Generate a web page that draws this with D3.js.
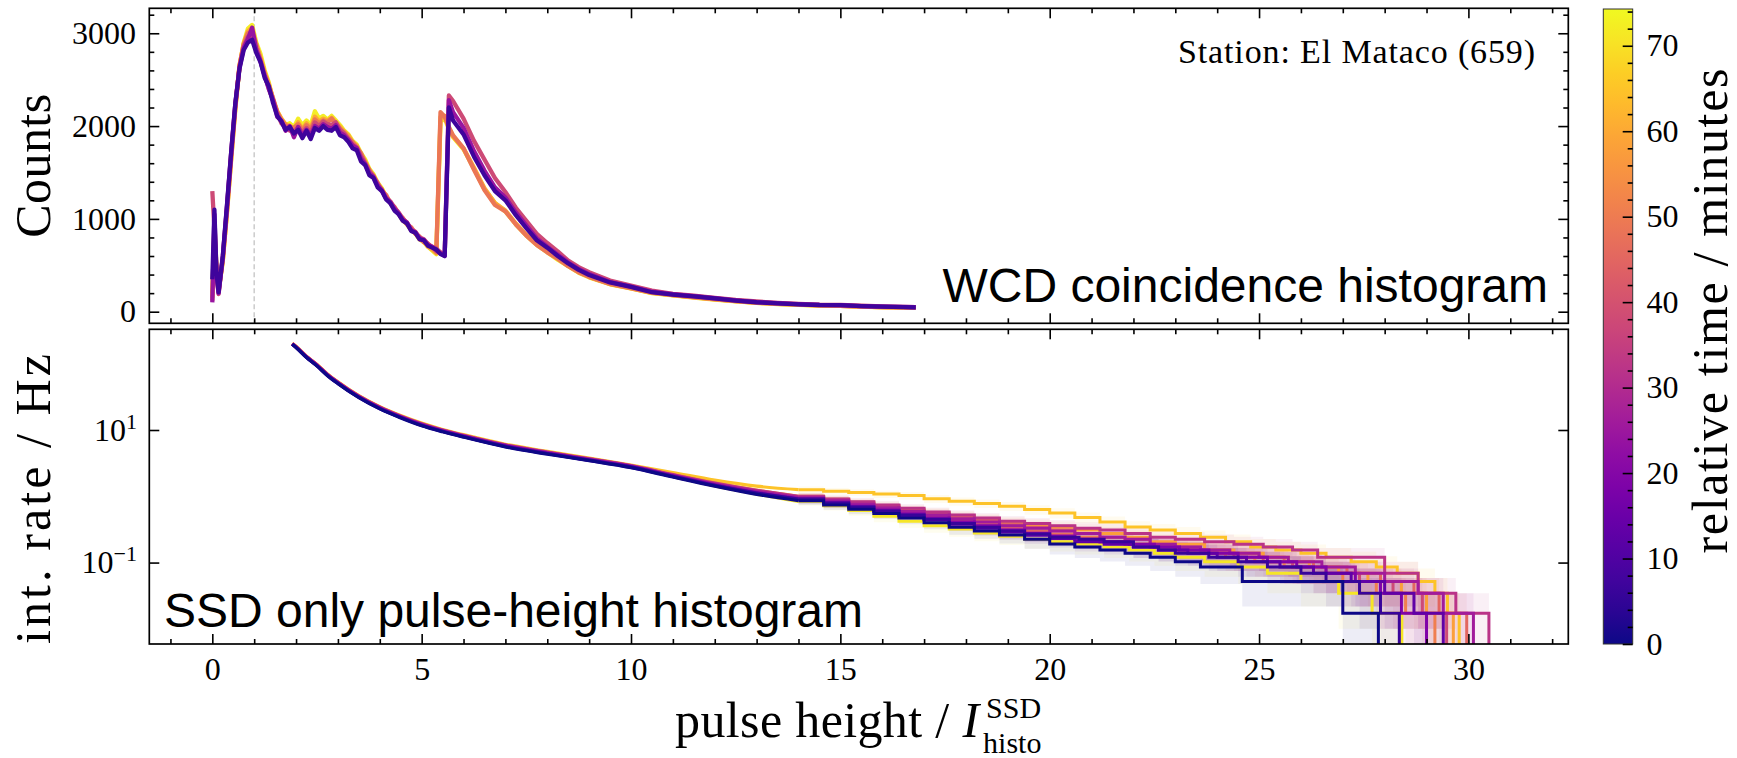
<!DOCTYPE html>
<html>
<head>
<meta charset="utf-8">
<script src="https://cdn.jsdelivr.net/npm/d3@7"></script>
<style>
  body { margin: 0; background: #fff; }
  svg { display: block; }
  text { white-space: pre; }
</style>
</head>
<body>
<svg id="chart" width="1737" height="758"></svg>
<script>
// ---- data ----

// axis ticks
const xTicks = [0, 5, 10, 15, 20, 25, 30];
const countTicks = [0, 1000, 2000, 3000];
const rateTicks = [0.1, 10];
const timeTicks = [0, 10, 20, 30, 40, 50, 60, 70];

// WCD coincidence histogram (top), common pulse-height grid
const wcdX = [0, 0.05, 0.1, 0.15,
  0.25, 0.35, 0.45, 0.55, 0.65, 0.75, 0.85, 0.95, 1.05, 1.15,
  1.25, 1.35, 1.45, 1.55, 1.65, 1.75, 1.85, 1.95, 2.05, 2.15,
  2.25, 2.35, 2.45, 2.55, 2.65, 2.75, 2.85, 2.95, 3.05, 3.15,
  3.25, 3.35, 3.45, 3.55, 3.65, 3.75, 3.85, 3.95, 4.05, 4.15,
  4.25, 4.35, 4.45, 4.55, 4.65, 4.75, 4.85, 4.95, 5.05, 5.15,
  5.25, 5.35, 5.45, 5.55, 5.65, 5.75,
  6, 6.25, 6.5, 6.75, 7, 7.25, 7.5, 7.75, 8, 8.25, 8.5, 8.75, 9,
  9.5, 10, 10.5, 11, 11.5, 12, 12.5, 13, 13.5, 14, 14.5, 15, 15.5, 16, 16.5,
  16.8];

const wcdTimes = [72, 60, 49, 38, 24, 7];

const wcd72 = [200, 800, 450, 220,
  540, 1060, 1630, 2180, 2640, 2900, 3050, 3090, 2900, 2780,
  2600, 2470, 2280, 2160, 2070, 2010, 2030, 1990, 2080, 2010,
  2060, 2010, 2160, 2080, 2110, 2070, 2110, 2060, 2010, 1950,
  1910, 1840, 1800, 1710, 1640, 1540, 1480, 1390, 1330, 1240,
  1180, 1110, 1060, 990, 940, 880, 840, 780, 750, 700,
  660, 620, 2050, 2080, 1970, 1880,
  1750, 1540, 1320, 1170, 1080, 940, 820, 720, 640, 560, 490, 420, 370,
  295, 250, 200, 175, 152, 130, 112, 95, 83, 74, 66, 62, 54, 48, 45,
  43];

const wcd60 = [150, 950, 480, 240,
  550, 1090, 1660, 2210, 2660, 2890, 3020, 3060, 2870, 2740,
  2580, 2450, 2290, 2160, 2080, 2020, 2000, 1970, 2040, 1970,
  2030, 1980, 2100, 2050, 2080, 2060, 2090, 2040, 1990, 1940,
  1900, 1820, 1790, 1690, 1620, 1520, 1470, 1370, 1320, 1230,
  1180, 1100, 1060, 980, 950, 880, 850, 780, 760, 700,
  670, 630, 2100, 2110, 1980, 1890,
  1760, 1550, 1330, 1170, 1090, 950, 830, 730, 650, 570, 495, 425, 375,
  298, 252, 202, 178, 155, 132, 114, 96, 84, 76, 67, 63, 55, 49, 45,
  43];

const wcd49 = [120, 700, 500, 230,
  560, 1080, 1650, 2200, 2650, 2880, 3000, 3020, 2880, 2720,
  2560, 2440, 2300, 2150, 2060, 2010, 1990, 1980, 2020, 1950,
  2010, 1960, 2070, 2030, 2060, 2040, 2080, 2020, 1970, 1930,
  1870, 1830, 1770, 1710, 1610, 1530, 1450, 1390, 1300, 1260,
  1170, 1130, 1050, 1010, 940, 910, 840, 810, 750, 735,
  690, 640, 2150, 2100, 1990, 1900,
  1760, 1530, 1310, 1150, 1080, 940, 820, 720, 640, 570, 490, 425, 375,
  300, 255, 205, 180, 158, 135, 115, 98, 85, 78, 68, 64, 56, 50, 46,
  44];

const wcd38 = [1300, 900, 380, 190,
  580, 1120, 1700, 2230, 2640, 2860, 2960, 2980, 2830, 2700,
  2550, 2400, 2280, 2140, 2030, 1990, 1950, 1940, 1990, 1930,
  1980, 1930, 2040, 2000, 2050, 2020, 2010, 2040, 1960, 1920,
  1860, 1800, 1770, 1680, 1600, 1510, 1460, 1370, 1310, 1230,
  1190, 1120, 1070, 1000, 960, 890, 860, 800, 780, 730,
  700, 680, 640, 610, 2330, 2270,
  2080, 1840, 1640, 1440, 1290, 1120, 980, 840, 740, 650, 550, 480, 425,
  335, 280, 228, 192, 172, 150, 127, 110, 96, 84, 76, 73, 65, 58, 53,
  50];

const wcd24 = [100, 1050, 400, 200,
  590, 1140, 1710, 2240, 2630, 2840, 2940, 3060, 2820, 2700,
  2540, 2400, 2280, 2100, 2060, 1950, 2000, 1880, 1990, 1890,
  1960, 1900, 2000, 1970, 2020, 1990, 1970, 2010, 1930, 1900,
  1850, 1790, 1760, 1650, 1590, 1490, 1450, 1360, 1310, 1220,
  1180, 1110, 1060, 990, 960, 880, 855, 790, 775, 720,
  700, 660, 630, 600, 2280, 2150,
  1980, 1730, 1520, 1340, 1230, 1070, 930, 790, 700, 615, 530, 460, 405,
  320, 270, 215, 188, 168, 145, 122, 104, 92, 81, 73, 71, 61, 55, 51,
  48];

const wcd07 = [350, 1100, 420, 210,
  600, 1150, 1720, 2250, 2620, 2820, 2900, 2930, 2790, 2690,
  2520, 2430, 2250, 2110, 2050, 1960, 1990, 1920, 1960, 1870,
  1950, 1860, 1980, 1950, 2000, 1960, 1950, 1990, 1900, 1880,
  1830, 1760, 1740, 1620, 1580, 1470, 1440, 1340, 1300, 1210,
  1170, 1090, 1050, 980, 950, 870, 850, 780, 770, 710,
  690, 670, 620, 600, 2200, 2060,
  1910, 1670, 1470, 1300, 1200, 1040, 900, 770, 690, 600, 520, 450, 395,
  315, 268, 210, 185, 165, 143, 120, 102, 90, 80, 72, 70, 60, 54, 50,
  47];

const wcdSeries = [wcd72, wcd60, wcd49, wcd38, wcd24, wcd07];

// SSD integral rate (bottom): smooth head on a common grid, then step tail [x, Hz]
const ssdHeadX = [1.91, 2.0, 2.25, 2.5, 2.75, 3.0, 3.5, 4.0, 4.5, 5.0, 5.5, 6.0, 7.0, 8.0, 9.0, 10, 11, 12, 13];
const ssdTimes = [71, 65, 58, 51, 45, 38, 32, 26, 19, 13, 6, 0];

const head71 = [197, 177, 125.5, 94, 67.2, 51.0, 31.4, 21.2, 15.6, 11.9, 9.6, 7.98, 5.7, 4.44, 3.53, 2.78, 2.0, 1.43, 1.08];
const head65 = [203, 183, 130, 97.5, 70.0, 53.3, 33.0, 22.5, 16.5, 12.7, 10.2, 8.5, 6.1, 4.75, 3.78, 2.95, 2.28, 1.75, 1.42];
const head58 = [202, 182, 129, 96.8, 69.4, 52.8, 32.6, 22.2, 16.3, 12.5, 10.0, 8.35, 5.98, 4.65, 3.70, 2.9, 2.15, 1.6, 1.24];
const head51 = [200, 180, 127.5, 95.5, 68.5, 52.0, 32.0, 21.8, 16.0, 12.2, 9.82, 8.18, 5.85, 4.55, 3.62, 2.84, 2.08, 1.53, 1.18];
const head45 = [201, 181, 128.5, 96.2, 69.0, 52.4, 32.3, 22.0, 16.1, 12.3, 9.9, 8.25, 5.9, 4.6, 3.66, 2.88, 2.1, 1.56, 1.21];
const head38 = [199, 179, 127, 95.2, 68.0, 51.6, 31.8, 21.6, 15.8, 12.1, 9.72, 8.1, 5.8, 4.5, 3.58, 2.82, 2.05, 1.5, 1.15];
const head32 = [200, 180, 128, 96, 68.8, 52.3, 32.3, 22.0, 16.1, 12.4, 9.95, 8.3, 5.95, 4.63, 3.68, 2.9, 2.12, 1.58, 1.23];
const head26 = [199, 179, 127, 95, 68.2, 51.8, 31.9, 21.7, 15.9, 12.2, 9.8, 8.15, 5.85, 4.55, 3.62, 2.85, 2.07, 1.53, 1.19];
const head19 = [198, 178, 126, 94.4, 67.6, 51.3, 31.6, 21.4, 15.7, 12.0, 9.66, 8.04, 5.75, 4.47, 3.55, 2.8, 2.03, 1.49, 1.14];
const head13 = [196, 176, 124.5, 93, 66.5, 50.5, 31.0, 21.0, 15.4, 11.7, 9.5, 7.9, 5.62, 4.38, 3.48, 2.72, 1.98, 1.45, 1.1];
const head06 = [197, 177, 125, 93.5, 67, 50.8, 31.2, 21.1, 15.5, 11.8, 9.55, 7.95, 5.68, 4.42, 3.52, 2.78, 2.0, 1.46, 1.12];
const head00 = [196, 175, 124, 92, 66, 50, 30.8, 20.8, 15.2, 11.6, 9.4, 7.8, 5.55, 4.32, 3.45, 2.7, 1.95, 1.42, 1.07];

const tail71 = [[14,0.84],[14.6,0.72],[15.2,0.61],[15.8,0.50],[16.4,0.42],[17,0.36],[17.6,0.32],[18.2,0.28],[18.8,0.25],[19.4,0.224],[20,0.206],[20.6,0.189],[21.3,0.172],[21.9,0.155],[22.5,0.138],[23.0,0.12],[23.7,0.103],[24.5,0.086],[25.2,0.0688],[26.0,0.0516],[26.9,0.0344],[27.7,0.0172],[28.41,0]];
const tail65 = [[14,1.26],[14.6,1.19],[15.2,1.14],[15.8,1.08],[16.4,1.03],[17,0.92],[17.6,0.84],[18.2,0.78],[18.8,0.71],[19.4,0.63],[20,0.56],[20.6,0.48],[21.2,0.41],[21.8,0.344],[22.4,0.31],[23.0,0.275],[23.6,0.241],[24.2,0.206],[24.8,0.172],[25.4,0.155],[26.0,0.138],[26.6,0.12],[27.2,0.103],[27.8,0.086],[28.3,0.0688],[28.8,0.0516],[29.2,0.0344],[29.5,0.0172],[29.78,0]];
const tail58 = [[14,1.0],[14.6,0.90],[15.2,0.81],[15.8,0.72],[16.4,0.63],[17,0.56],[17.6,0.50],[18.2,0.45],[18.8,0.40],[19.4,0.37],[20,0.34],[20.6,0.31],[21.2,0.275],[21.8,0.241],[22.4,0.206],[23.0,0.189],[23.7,0.155],[24.4,0.138],[25.1,0.12],[25.7,0.103],[26.2,0.086],[26.9,0.0688],[27.6,0.0516],[28.4,0.0344],[29.0,0.0172],[29.64,0]];
const tail51 = [[14,0.95],[14.6,0.84],[15.2,0.74],[15.8,0.65],[16.4,0.57],[17,0.50],[17.6,0.44],[18.2,0.38],[18.8,0.33],[19.4,0.30],[20,0.27],[20.6,0.241],[21.2,0.206],[21.8,0.189],[22.4,0.172],[23.0,0.155],[23.6,0.138],[24.2,0.12],[24.9,0.103],[25.6,0.086],[26.3,0.0688],[27.0,0.0516],[27.8,0.0344],[28.5,0.0172],[29.2,0]];
const tail45 = [[14,0.98],[14.6,0.87],[15.2,0.78],[15.8,0.69],[16.4,0.61],[17,0.54],[17.6,0.48],[18.2,0.43],[18.8,0.38],[19.4,0.34],[20,0.31],[20.6,0.275],[21.2,0.241],[21.8,0.224],[22.4,0.189],[23.0,0.172],[23.6,0.155],[24.3,0.138],[25.0,0.12],[25.6,0.103],[26.3,0.086],[27.1,0.0688],[27.9,0.0516],[28.7,0.0344],[29.3,0.0172],[29.96,0]];
const tail38 = [[14,0.93],[14.6,0.82],[15.2,0.72],[15.8,0.63],[16.4,0.55],[17,0.48],[17.6,0.42],[18.2,0.37],[18.8,0.32],[19.4,0.29],[20,0.258],[20.6,0.224],[21.2,0.206],[21.8,0.189],[22.4,0.172],[23.0,0.155],[23.7,0.138],[24.4,0.12],[25.1,0.103],[25.8,0.086],[26.6,0.0688],[27.4,0.0516],[28.2,0.0344],[28.9,0.0172],[29.48,0]];
const tail32 = [[14,1.0],[14.6,0.91],[15.2,0.83],[15.8,0.74],[16.4,0.66],[17,0.58],[17.6,0.52],[18.2,0.47],[18.8,0.42],[19.4,0.39],[20,0.36],[20.6,0.33],[21.2,0.31],[21.8,0.275],[22.4,0.241],[23.0,0.224],[23.7,0.206],[24.4,0.189],[25.1,0.172],[25.8,0.155],[26.4,0.12],[28.0,0.0688],[28.8,0.0344],[29.7,0.0172],[30.49,0]];
const tail26 = [[14,0.96],[14.6,0.86],[15.2,0.76],[15.8,0.67],[16.4,0.59],[17,0.52],[17.6,0.46],[18.2,0.41],[18.8,0.36],[19.4,0.33],[20,0.30],[20.6,0.275],[21.2,0.241],[21.8,0.224],[22.4,0.189],[23.0,0.172],[23.6,0.155],[24.3,0.138],[25.0,0.12],[25.7,0.103],[26.5,0.086],[27.3,0.0688],[28.0,0.0516],[28.8,0.0344],[29.4,0.0172],[30.12,0]];
const tail19 = [[14,0.92],[14.6,0.81],[15.2,0.71],[15.8,0.62],[16.4,0.54],[17,0.47],[17.6,0.41],[18.2,0.36],[18.8,0.31],[19.4,0.275],[20,0.25],[20.6,0.224],[21.2,0.206],[21.9,0.189],[22.5,0.172],[23.1,0.155],[23.8,0.138],[24.5,0.12],[25.2,0.103],[25.9,0.086],[26.6,0.0688],[27.3,0.0516],[27.9,0.0344],[28.4,0.0172],[29.0,0]];
const tail13 = [[14,0.89],[14.6,0.78],[15.2,0.68],[15.8,0.59],[16.4,0.51],[17,0.44],[17.6,0.38],[18.2,0.33],[18.8,0.29],[19.4,0.258],[20,0.23],[20.6,0.206],[21.3,0.189],[22,0.172],[22.6,0.155],[23.3,0.138],[24,0.12],[24.7,0.103],[25.5,0.086],[26.3,0.0688],[27.2,0.0516],[28.0,0.0344],[28.7,0.0172],[29.4,0]];
const tail06 = [[14,0.91],[14.6,0.79],[15.2,0.69],[15.8,0.60],[16.4,0.52],[17,0.45],[17.6,0.39],[18.2,0.34],[18.8,0.30],[19.4,0.27],[20,0.241],[20.7,0.224],[21.3,0.206],[22,0.172],[22.6,0.155],[23.0,0.138],[23.8,0.12],[24.5,0.103],[25.2,0.086],[26.0,0.0688],[26.6,0.0516],[27.4,0.0344],[27.9,0.0172],[28.35,0]];
const tail00 = [[14,0.86],[14.6,0.74],[15.2,0.64],[15.8,0.55],[16.4,0.47],[17,0.40],[17.6,0.34],[18.2,0.30],[18.8,0.26],[19.4,0.224],[20,0.19],[20.6,0.172],[21.2,0.155],[21.8,0.138],[22.4,0.12],[23.0,0.103],[23.6,0.086],[24.6,0.0516],[27.0,0.0172],[27.85,0]];

const ssdHeads = [head71, head65, head58, head51, head45, head38, head32, head26, head19, head13, head06, head00];
const ssdTails = [tail71, tail65, tail58, tail51, tail45, tail38, tail32, tail26, tail19, tail13, tail06, tail00];
const oneCountRate = 0.0172; // rate of a single count, sets the poisson band

// ---- layout ----
const plotL = 149.3, plotR = 1568.3;
const topT = 8.3, topB = 323.3;
const botT = 329.3, botB = 644;
const cbL = 1603.3, cbR = 1632.7, cbT = 9, cbB = 644;
const timeMax = 74.3;
const serif = "'Liberation Serif', 'Times New Roman', serif";
const sans = "'Liberation Sans', Arial, sans-serif";

const svg = d3.select("#chart");

const x = d3.scaleLinear().domain([-1.505, 32.386]).range([plotL, plotR]);
const yTop = d3.scaleLinear().domain([-125, 3269]).range([topB, topT]);
const yBot = d3.scaleLog().domain([0.00591, 330.4]).range([botB, botT]);
const yTime = d3.scaleLinear().domain([0, timeMax]).range([cbB, cbT]);
const color = t => d3.interpolatePlasma(t / timeMax);

const defs = svg.append("defs");
defs.append("clipPath").attr("id", "clipTop").append("rect")
  .attr("x", plotL).attr("y", topT).attr("width", plotR - plotL).attr("height", topB - topT);
defs.append("clipPath").attr("id", "clipBot").append("rect")
  .attr("x", plotL).attr("y", botT).attr("width", plotR - plotL).attr("height", botB - botT);

// ---- top panel ----
const gTop = svg.append("g").attr("clip-path", "url(#clipTop)");

gTop.append("line")
  .attr("x1", x(1)).attr("x2", x(1)).attr("y1", topT).attr("y2", topB)
  .attr("stroke", "#c8c8c8").attr("stroke-width", 1.4).attr("stroke-dasharray", "5,3");

const wcdLine = d3.line().x((d, i) => x(wcdX[i])).y(d => yTop(d));
wcdSeries.forEach((s, k) => {
  gTop.append("path")
    .attr("d", wcdLine(s))
    .attr("fill", "none")
    .attr("stroke", color(wcdTimes[k]))
    .attr("stroke-width", 4.3)
    .attr("stroke-linejoin", "round");
});

// ---- bottom panel ----
const gBot = svg.append("g").attr("clip-path", "url(#clipBot)");
const yRate = r => r > 0 ? yBot(r) : botB + 20;

const band = d3.area().curve(d3.curveStepAfter)
  .x(d => x(d[0]))
  .y0(d => yRate(Math.max(d[1] - Math.sqrt(d[1] * oneCountRate), 1e-4)))
  .y1(d => yRate(d[1] + Math.sqrt(d[1] * oneCountRate)));

ssdTails.forEach((tail, k) => {
  // band keeps the last non-zero level up to where the curve ends
  const pts = tail.map((p, i) => (p[1] > 0 ? p : [p[0], tail[i - 1][1]]));
  gBot.append("path")
    .attr("d", band(pts))
    .attr("fill", color(ssdTimes[k]))
    .attr("fill-opacity", 0.075)
    .attr("stroke", "none");
});

const headLine = d3.line().curve(d3.curveMonotoneX).x(d => x(d[0])).y(d => yRate(d[1]));
const tailLine = d3.line().curve(d3.curveStepAfter).x(d => x(d[0])).y(d => yRate(d[1]));

ssdTails.forEach((tail, k) => {
  const c = color(ssdTimes[k]);
  const head = ssdHeadX.map((v, i) => [v, ssdHeads[k][i]]).concat([tail[0]]);
  gBot.append("path").attr("d", headLine(head))
    .attr("fill", "none").attr("stroke", c).attr("stroke-width", 3.2);
  gBot.append("path").attr("d", tailLine(tail))
    .attr("fill", "none").attr("stroke", c).attr("stroke-width", 3);
});

// ---- axes ----
const xMinor = d3.range(-1, 33).filter(v => v % 5 !== 0);
const countMinor = d3.range(0, 3270, 200).filter(v => v % 1000 !== 0);
const timeMinor = d3.range(0, 75, 2).filter(v => v % 10 !== 0);

function addAxis(axis, tx, ty) {
  const g = svg.append("g").attr("transform", `translate(${tx},${ty})`).call(axis);
  g.select(".domain").remove();
  g.attr("font-family", serif).attr("font-size", 32);
  g.selectAll("line").attr("stroke", "#000").attr("stroke-width", 1.6);
  g.selectAll("text")
    .attr("fill", "#000")
    .style("font-family", serif)
    .style("font-size", "32px");
  return g;
}

// top panel ticks
addAxis(d3.axisBottom(x).tickValues(xTicks).tickSize(-10).tickFormat(""), 0, topB);
addAxis(d3.axisBottom(x).tickValues(xMinor).tickSize(-5).tickFormat(""), 0, topB);
addAxis(d3.axisTop(x).tickValues(xTicks).tickSize(-10).tickFormat(""), 0, topT);
addAxis(d3.axisTop(x).tickValues(xMinor).tickSize(-5).tickFormat(""), 0, topT);
addAxis(d3.axisLeft(yTop).tickValues(countTicks).tickSize(-10).tickPadding(13.3).tickFormat(d3.format("d")), plotL, 0);
addAxis(d3.axisLeft(yTop).tickValues(countMinor).tickSize(-5).tickFormat(""), plotL, 0);
addAxis(d3.axisRight(yTop).tickValues(countTicks).tickSize(-10).tickFormat(""), plotR, 0);
addAxis(d3.axisRight(yTop).tickValues(countMinor).tickSize(-5).tickFormat(""), plotR, 0);

// bottom panel ticks
addAxis(d3.axisBottom(x).tickValues(xTicks).tickSize(-10).tickPadding(13).tickFormat(d3.format("d")), 0, botB);
addAxis(d3.axisBottom(x).tickValues(xMinor).tickSize(-5).tickFormat(""), 0, botB);
addAxis(d3.axisTop(x).tickValues(xTicks).tickSize(-10).tickFormat(""), 0, botT);
addAxis(d3.axisTop(x).tickValues(xMinor).tickSize(-5).tickFormat(""), 0, botT);
const gRate = addAxis(d3.axisLeft(yBot).tickValues(rateTicks).tickSize(-10).tickPadding(12.3).tickFormat(d => "10"), plotL, 0);
gRate.selectAll("text").each(function(d) {
  const e = Math.round(Math.log10(d));
  d3.select(this).append("tspan")
    .style("font-size", "22px").attr("dy", "-0.55em")
    .text(e < 0 ? "\u2212" + (-e) : String(e));
});
addAxis(d3.axisRight(yBot).tickValues(rateTicks).tickSize(-10).tickFormat(""), plotR, 0);

// frames
[[topT, topB], [botT, botB]].forEach(([t, b]) => {
  svg.append("rect").attr("x", plotL).attr("y", t)
    .attr("width", plotR - plotL).attr("height", b - t)
    .attr("fill", "none").attr("stroke", "#000").attr("stroke-width", 1.7);
});

// ---- colorbar ----
const grad = defs.append("linearGradient").attr("id", "plasma")
  .attr("x1", 0).attr("y1", 1).attr("x2", 0).attr("y2", 0);
d3.range(0, 1.0001, 0.05).forEach(o => {
  grad.append("stop").attr("offset", o).attr("stop-color", d3.interpolatePlasma(o));
});
svg.append("rect").attr("x", cbL).attr("y", cbT)
  .attr("width", cbR - cbL).attr("height", cbB - cbT)
  .attr("fill", "url(#plasma)").attr("stroke", "#333").attr("stroke-width", 1);
addAxis(d3.axisRight(yTime).tickValues(timeTicks).tickSize(-10).tickPadding(13.8).tickFormat(d3.format("d")), cbR, 0);
addAxis(d3.axisRight(yTime).tickValues(timeMinor).tickSize(-5).tickFormat(""), cbR, 0);

// ---- labels ----
function vLabel(text, cx, cy, len) {
  svg.append("text")
    .attr("transform", `translate(${cx},${cy}) rotate(-90)`)
    .attr("text-anchor", "middle")
    .attr("font-family", serif).attr("font-size", 50)
    .attr("textLength", len).attr("lengthAdjust", "spacing")
    .text(text);
}
vLabel("Counts", 50, (topT + topB) / 2, 144);
vLabel("int. rate / Hz", 50, 499, 290);
vLabel("relative time / minutes", 1727, 311, 485);

// x label with stacked sub/superscript
const xl = svg.append("g").attr("font-family", serif);
const mainLen = 304;
const xMain = xl.append("text").attr("y", 737).attr("font-size", 50)
  .attr("textLength", mainLen).attr("lengthAdjust", "spacing");
xMain.append("tspan").text("pulse height / ");
xMain.append("tspan").attr("font-style", "italic").text("I");
const supT = xl.append("text").attr("y", 718).attr("font-size", 30).text("SSD");
const subT = xl.append("text").attr("y", 753).attr("font-size", 30).text("histo");
const wScript = Math.max(supT.node().getComputedTextLength(), subT.node().getComputedTextLength());
const xStart = (plotL + plotR) / 2 - (mainLen + 5 + wScript) / 2;
xMain.attr("x", xStart);
supT.attr("x", xStart + mainLen + 7);
subT.attr("x", xStart + mainLen + 4);

svg.append("text").attr("x", 1535).attr("y", 63)
  .attr("text-anchor", "end").attr("font-family", serif).attr("font-size", 34)
  .attr("textLength", 357).attr("lengthAdjust", "spacing")
  .text("Station: El Mataco (659)");

svg.append("text").attr("x", 1548).attr("y", 302)
  .attr("text-anchor", "end").attr("font-family", sans).attr("font-size", 48)
  .text("WCD coincidence histogram");

svg.append("text").attr("x", 164).attr("y", 627)
  .attr("text-anchor", "start").attr("font-family", sans).attr("font-size", 48)
  .text("SSD only pulse-height histogram");
</script>
</body>
</html>
